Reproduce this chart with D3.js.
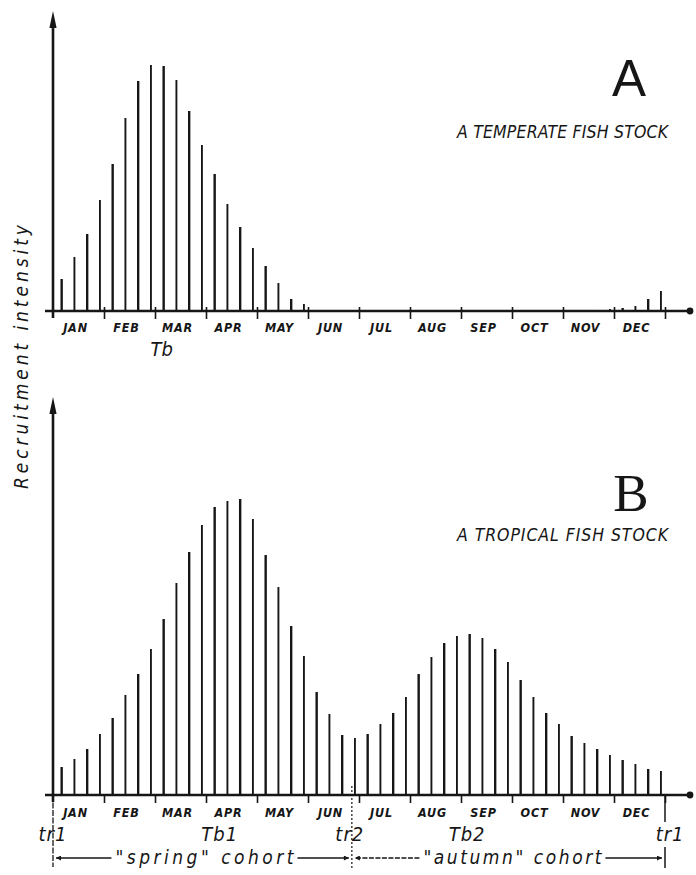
<!DOCTYPE html>
<html>
<head>
<meta charset="utf-8">
<script src="https://cdn.jsdelivr.net/npm/d3@7"></script>
<style>
  body { margin: 0; background: #fff; }
  text { fill: #161616; }
</style>
</head>
<body>
<svg id="chart" width="696" height="875"></svg>
<script>
// months along the time axis
const months = ['JAN', 'FEB', 'MAR', 'APR', 'MAY', 'JUN', 'JUL', 'AUG', 'SEP', 'OCT', 'NOV', 'DEC'];

// recruitment intensity, 4 pulses per month (48 per year)
const temperate = [
  32, 54, 77, 111, 147, 193, 230, 246, 245, 231, 200, 166,
  137, 107, 84, 63, 45, 28, 12, 7, 0, 0, 0, 0,
  0, 0, 0, 0, 0, 0, 0, 0, 0, 0, 0, 0,
  0, 0, 0, 0, 0, 0, 1, 2, 3, 5, 12, 20
];
const tropical = [
  28, 36, 46, 61, 77, 100, 121, 146, 176, 212, 243, 270,
  288, 294, 296, 276, 240, 208, 169, 139, 103, 81, 60, 57,
  61, 71, 82, 98, 121, 138, 152, 159, 161, 157, 146, 133,
  115, 98, 82, 71, 59, 52, 46, 40, 35, 31, 26, 24
];

// markers in months from 1 January
const tbTemperate = [{ t: 2.13, text: 'Tb' }];
const tropicalMarks = [
  { t: 0, text: 'tr1' },
  { t: 3.27, text: 'Tb1' },
  { t: 5.82, text: 'tr2' },
  { t: 8.12, text: 'Tb2' },
  { t: 12.1, text: 'tr1' }
];
const trTimes = [0, 5.86, 12];
const cohorts = ['"spring" cohort', '"autumn" cohort'];

const svg = d3.select('#chart');
const ink = '#161616';
const font = '"DejaVu Sans", sans-serif';
const fontCond = '"DejaVu Sans Condensed", "DejaVu Sans", sans-serif';

const x = d3.scaleLinear().domain([0, 12]).range([53, 665]);
const pulseT = (i) => (i + 0.68) / 4;
const axisEnd = 690;

// arrowheads
const defs = svg.append('defs');
defs.append('marker')
  .attr('id', 'head')
  .attr('viewBox', '0 0 10 10')
  .attr('refX', 10).attr('refY', 5)
  .attr('markerWidth', 8).attr('markerHeight', 5)
  .attr('markerUnits', 'userSpaceOnUse')
  .attr('orient', 'auto-start-reverse')
  .append('path').attr('d', 'M0,0L10,5L0,10Z').attr('fill', ink);

function panel(data, base, top, crossTicks, labelY) {
  const g = svg.append('g');
  const y = d3.scaleLinear().domain([0, base - top]).range([base, top]);

  // x axis line with dot at the end
  g.append('line')
    .attr('x1', x(0) - 8).attr('x2', axisEnd)
    .attr('y1', base).attr('y2', base)
    .attr('stroke', ink).attr('stroke-width', 2.4);
  g.append('circle').attr('cx', axisEnd).attr('cy', base).attr('r', 3.4).attr('fill', ink);

  // month ticks
  const ax = g.append('g')
    .attr('transform', `translate(0,${base})`)
    .call(d3.axisBottom(x).tickValues(d3.range(1, 13)).tickSize(8).tickFormat(''));
  ax.select('.domain').remove();
  ax.selectAll('.tick line')
    .attr('y1', crossTicks ? -4 : 0)
    .attr('stroke', ink).attr('stroke-width', 1.6);

  // pulses
  g.selectAll('line.bar')
    .data(data.map((v, i) => ({ v, t: pulseT(i) })).filter((d) => d.v > 0))
    .join('line')
    .attr('class', 'bar')
    .attr('x1', (d) => x(d.t)).attr('x2', (d) => x(d.t))
    .attr('y1', y(0)).attr('y2', (d) => y(d.v))
    .attr('stroke', ink)
    .attr('stroke-width', (d, i) => (i % 2 ? 1.9 : 2.4));

  // y axis with arrow
  g.append('line')
    .attr('x1', x(0)).attr('x2', x(0))
    .attr('y1', base + 7).attr('y2', top + 14)
    .attr('stroke', ink).attr('stroke-width', 2.6);
  g.append('path')
    .attr('d', `M${x(0)},${top}L${x(0) - 3.6},${top + 17}L${x(0) + 3.6},${top + 17}Z`)
    .attr('fill', ink);

  // month names
  g.selectAll('text.month')
    .data(months)
    .join('text')
    .attr('class', 'month')
    .attr('x', (d, i) => x(i + 0.5) - 3)
    .attr('y', labelY)
    .attr('text-anchor', 'middle')
    .attr('font-family', fontCond)
    .attr('font-weight', 'bold')
    .attr('font-style', 'italic')
    .attr('font-size', 12.5)
    .attr('letter-spacing', 0.8)
    .text((d) => d);
  return g;
}

// ---- Panel A
panel(temperate, 311, 11, true, 332);
svg.append('text')
  .attr('x', 629).attr('y', 96)
  .attr('text-anchor', 'middle')
  .attr('font-family', '"Liberation Sans", sans-serif')
  .attr('font-size', 51)
  .text('A');
svg.append('text')
  .attr('x', 668).attr('y', 138)
  .attr('text-anchor', 'end')
  .attr('font-family', fontCond).attr('font-style', 'italic')
  .attr('font-size', 17.5)
  .attr('textLength', 211).attr('lengthAdjust', 'spacing')
  .text('A TEMPERATE FISH STOCK');
svg.selectAll('text.tb')
  .data(tbTemperate)
  .join('text')
  .attr('class', 'tb')
  .attr('x', (d) => x(d.t)).attr('y', 356)
  .attr('text-anchor', 'middle')
  .attr('font-family', fontCond).attr('font-style', 'italic')
  .attr('font-size', 20)
  .text((d) => d.text);

// ---- Panel B
panel(tropical, 795, 397, false, 817);
svg.append('text')
  .attr('x', 631).attr('y', 511)
  .attr('text-anchor', 'middle')
  .attr('font-family', '"Liberation Serif", serif')
  .attr('font-size', 53)
  .text('B');
svg.append('text')
  .attr('x', 668).attr('y', 541)
  .attr('text-anchor', 'end')
  .attr('font-family', fontCond).attr('font-style', 'italic')
  .attr('font-size', 17.5)
  .attr('textLength', 211).attr('lengthAdjust', 'spacing')
  .text('A TROPICAL FISH STOCK');

svg.selectAll('text.mark')
  .data(tropicalMarks)
  .join('text')
  .attr('class', 'mark')
  .attr('x', (d) => x(d.t)).attr('y', 841)
  .attr('text-anchor', 'middle')
  .attr('font-family', fontCond).attr('font-style', 'italic')
  .attr('font-size', 20)
  .attr('letter-spacing', 1)
  .text((d) => d.text);

// transition lines (tr1, tr2, tr1)
const cy = 858;
svg.append('line')
  .attr('x1', x(trTimes[0])).attr('x2', x(trTimes[0]))
  .attr('y1', 795).attr('y2', 867)
  .attr('stroke', ink).attr('stroke-width', 1.3).attr('stroke-dasharray', '6,1.5');
svg.append('line')
  .attr('x1', x(trTimes[1])).attr('x2', x(trTimes[1]))
  .attr('y1', 786).attr('y2', 868)
  .attr('stroke', ink).attr('stroke-width', 1.2).attr('stroke-dasharray', '2,2');
[[795, 822], [847, 868]].forEach(([a, b]) => {
  svg.append('line')
    .attr('x1', x(trTimes[2])).attr('x2', x(trTimes[2]))
    .attr('y1', a).attr('y2', b)
    .attr('stroke', ink).attr('stroke-width', 1.5);
});

// cohort spans
cohorts.forEach((label, k) => {
  const x0 = x(trTimes[k]) + 3;
  const x1 = x(trTimes[k + 1]) - 3;
  const mid = (x0 + x1) / 2 + (k ? 4 : 2);
  const half = 89;
  svg.append('text')
    .attr('x', mid).attr('y', 864)
    .attr('text-anchor', 'middle')
    .attr('font-family', fontCond).attr('font-style', 'italic')
    .attr('font-size', 19)
    .attr('textLength', half * 2).attr('lengthAdjust', 'spacing')
    .text(label);
  svg.append('line')
    .attr('x1', mid - half - 4).attr('x2', x0)
    .attr('y1', cy).attr('y2', cy)
    .attr('stroke', ink).attr('stroke-width', 1.3)
    .attr('stroke-dasharray', k ? '5,1.5' : null)
    .attr('marker-end', 'url(#head)');
  svg.append('line')
    .attr('x1', mid + half + 4).attr('x2', x1)
    .attr('y1', cy).attr('y2', cy)
    .attr('stroke', ink).attr('stroke-width', 1.3)
    .attr('marker-end', 'url(#head)');
});

// y label
svg.append('text')
  .attr('transform', 'translate(28,357) rotate(-90)')
  .attr('text-anchor', 'middle')
  .attr('font-family', fontCond).attr('font-style', 'italic')
  .attr('font-size', 19)
  .attr('textLength', 264).attr('lengthAdjust', 'spacing')
  .text('Recruitment intensity');
</script>
</body>
</html>
